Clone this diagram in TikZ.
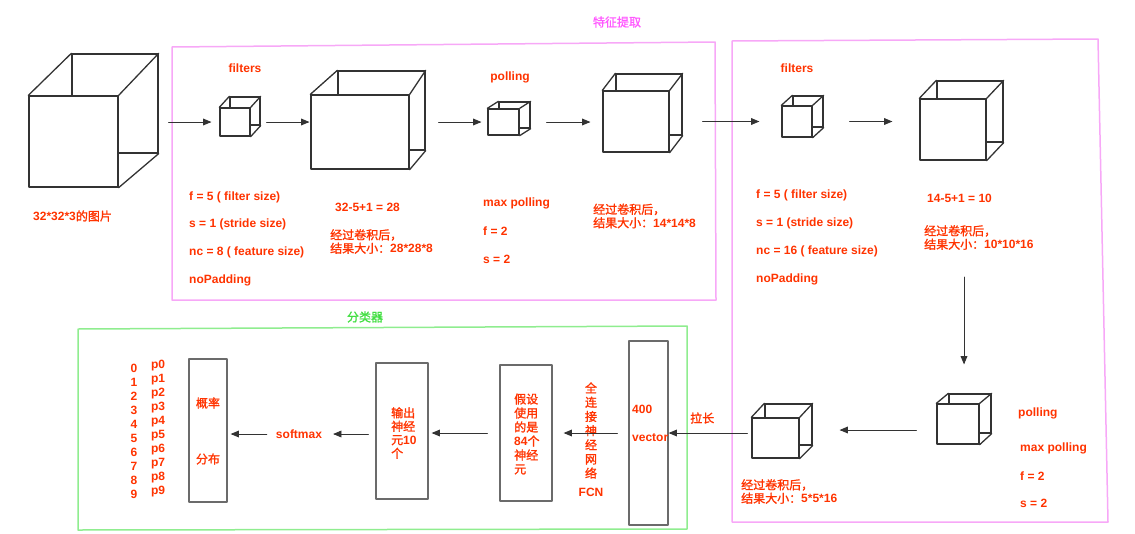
\documentclass[tikz,border=0pt]{standalone}
\usepackage{xcolor}
\usepackage{fontspec}
\setmainfont{Liberation Sans}
\newfontfamily\cjkfont{Noto Sans CJK SC}[Scale=1.0,FakeBold=1.4]
\newcommand{\zh}[1]{{\cjkfont\mdseries #1}}
\usetikzlibrary{arrows,fit}
\definecolor{ffqqqq}{rgb}{1,0.2,0}
\definecolor{ffwwff}{rgb}{0.97,0.66,0.97}
\definecolor{ffqqff}{rgb}{1,0.35,1}
\definecolor{wwffww}{rgb}{0.56,0.93,0.56}
\definecolor{qqddqq}{rgb}{0.25,0.87,0.25}
\definecolor{zzzzzz}{rgb}{0.2,0.2,0.2}
\definecolor{wwwwww}{rgb}{0.42,0.42,0.42}
\newcommand{\cubenode}[5]{%
\node[cubeface,fit={#4 #5}] (#1b) {};
\node[cubeface,fill=white,fit={#2 #3}] (#1) {};
\draw [cubeline] (#1.north west) -- (#1b.north west);
\draw [cubeline] (#1.north east) -- (#1b.north east);
\draw [cubeline] (#1.south east) -- (#1b.south east);
}
\begin{document}
\begin{tikzpicture}[line cap=round,line join=round,>=triangle 45,x=1pt,y=-1pt,
cubeface/.style={draw=zzzzzz,line width=1.3pt,inner sep=0pt},
cubeline/.style={line width=1.3pt,color=zzzzzz},
arr/.style={->,line width=0.9pt,color=zzzzzz},
block/.style={draw=wwwwww,line width=1.4pt,inner sep=0pt},
lbl/.style={text=ffqqqq,font=\fontsize{12}{13.5}\selectfont\bfseries,inner sep=1pt},
lblw/.style={lbl,anchor=west,align=left}]
\useasboundingbox (0,0) rectangle (1135,533);
% group frames
\draw [line width=1.5pt,color=ffwwff] (172,47) -- (715,42) -- (716,300) -- (172,300) -- cycle;
\draw [line width=1.5pt,color=ffwwff] (732,41) -- (1098,39) -- (1108,522) -- (732,522) -- cycle;
\draw [line width=1.5pt,color=wwffww] (78,329) -- (687,326) -- (687,529) -- (78,530) -- cycle;
\node[lbl,text=ffqqff] (feat) at (617,22) {\zh{特征提取}};
\node[lbl,text=qqddqq] (cls) at (365,317) {\zh{分类器}};
% cubes
\cubenode{inp}{(29,96)}{(118,187)}{(72,54)}{(158,153)}
\cubenode{fa}{(220,108)}{(250,136)}{(230,97)}{(260,125)}
\cubenode{ca}{(311,95)}{(409,169)}{(338,71)}{(425,150)}
\cubenode{pa}{(488,109)}{(519,135)}{(499,102)}{(530,128)}
\cubenode{cb}{(603,91)}{(669,152)}{(616,74)}{(682,135)}
\cubenode{fb}{(782,106)}{(812,137)}{(793,96)}{(823,127)}
\cubenode{cc}{(920,99)}{(986,160)}{(937,81)}{(1003,142)}
\cubenode{pb}{(937,404)}{(979,444)}{(949,394)}{(991,433)}
\cubenode{cd}{(752,418)}{(799,458)}{(765,404)}{(812,445)}
% feature extraction texts
\node[lblw] (intxt) at (32,216) {32*32*3\zh{的图片}};
\node[lbl] (flta) at (245,68) {filters};
\node[lblw] (fsa) at (188,197) {f = 5 ( filter size)};
\node[lblw] (sta) at (188,224) {s = 1 (stride size)};
\node[lblw] (nca) at (188,252) {nc = 8 ( feature size)};
\node[lblw] (npa) at (188,280) {noPadding};
\node[lblw] (eqa) at (334,207) {32-5+1 = 28};
\node[lblw] (sza) at (329,241.5) {\zh{经过卷积后，}\\\zh{结果大小：}28*28*8};
\node[lbl] (pola) at (510,77) {polling};
\node[lblw] (mpa) at (482,203) {max polling};
\node[lblw] (pfa) at (482,231) {f = 2};
\node[lblw] (psa) at (482,259) {s = 2};
\node[lblw] (szb) at (592,216) {\zh{经过卷积后，}\\\zh{结果大小：}14*14*8};
\node[lbl] (fltb) at (797,68) {filters};
\node[lblw] (fsb) at (755,195) {f = 5 ( filter size)};
\node[lblw] (stb) at (755,223) {s = 1 (stride size)};
\node[lblw] (ncb) at (755,251) {nc = 16 ( feature size)};
\node[lblw] (npb) at (755,279) {noPadding};
\node[lblw] (eqb) at (926,198) {14-5+1 = 10};
\node[lblw] (szc) at (923,237.5) {\zh{经过卷积后，}\\\zh{结果大小：}10*10*16};
\node[lblw] (polb) at (1017,413) {polling};
\node[lblw] (mpb) at (1019,448) {max polling};
\node[lblw] (pfb) at (1019,476) {f = 2};
\node[lblw] (psb) at (1019,503) {s = 2};
\node[lblw] (szd) at (740,491.5) {\zh{经过卷积后，}\\\zh{结果大小：}5*5*16};
% classifier blocks
\node[block,minimum width=39pt,minimum height=184pt] (vec) at (648.5,433) {};
\node[block,minimum width=52pt,minimum height=136pt] (fcl) at (526,433) {};
\node[block,minimum width=52pt,minimum height=136pt] (outl) at (402,431) {};
\node[block,minimum width=38pt,minimum height=143pt] (prob) at (208,430.5) {};
\node[lblw] (vna) at (631,409) {400};
\node[lblw] (vnb) at (631,438) {vector};
\node[lblw] (strt) at (689,418) {\zh{拉长}};
\node[lbl,align=center,font=\fontsize{12}{14.2}\selectfont\bfseries] (fcn) at (591,430.5) {\zh{全}\\\zh{连}\\\zh{接}\\\zh{神}\\\zh{经}\\\zh{网}\\\zh{络}};
\node[lbl] (fcnt) at (591,492) {FCN};
\node[lblw,font=\fontsize{12}{14}\selectfont\bfseries] (fctxt) at (513,434) {\zh{假设}\\\zh{使用}\\\zh{的是}\\84\zh{个}\\\zh{神经}\\\zh{元}};
\node[lblw] (outtxt) at (390,433) {\zh{输出}\\\zh{神经}\\\zh{元}10\\\zh{个}};
\node[lbl,inner sep=2pt] (smax) at (299,434) {softmax};
\node[lbl] (pra) at (208,403) {\zh{概率}};
\node[lbl] (prb) at (208,459) {\zh{分布}};
\foreach \i in {0,...,9} {
\node[lbl] (d\i) at (134,368+14*\i) {\i};
\node[lbl] (p\i) at (158,366+14*\i) {p\i};
}
% connectors
\draw [arr,shorten <=10pt,shorten >=8pt] (inpb.east |- fa.west) -- (fa.west);
\draw [arr,shorten <=6pt,shorten >=1pt] (fab.east |- fa.west) -- (ca.west |- fa.west);
\draw [arr,shorten <=13pt,shorten >=6pt] (cab.east |- pa.west) -- (pa.west);
\draw [arr,shorten <=16pt,shorten >=12pt] (pab.east |- pa.west) -- (cb.west |- pa.west);
\draw [arr,shorten <=20pt,shorten >=22pt] (cbb.east |- fb.west) -- (fb.west);
\draw [arr,shorten <=26pt,shorten >=27pt] (fbb.east |- fb.west) -- (cc.west |- fb.west);
\coordinate (drop) at (964,277);
\draw [arr,shorten >=29pt] (drop) -- (drop |- pbb.north);
\coordinate (pbout) at ([yshift=-6pt]pb.west);
\draw [arr,shorten <=20pt,shorten >=27pt] (pbout) -- (cdb.east |- pbout);
\draw [arr,shorten <=4pt] (cd.west |- vec.east) -- (vec.east);
\draw [arr,shorten <=11pt,shorten >=11pt] (vec.west) -- (fcl.east |- vec.west);
\draw [arr,shorten <=12pt,shorten >=3pt] (fcl.west) -- (outl.east |- fcl.west);
\draw [arr,shorten <=7pt,shorten >=9pt] (outl.west |- smax.east) -- (smax.east);
\draw [arr,shorten <=7pt,shorten >=3pt] (smax.west) -- (prob.east |- smax.west);
\end{tikzpicture}
\end{document}
